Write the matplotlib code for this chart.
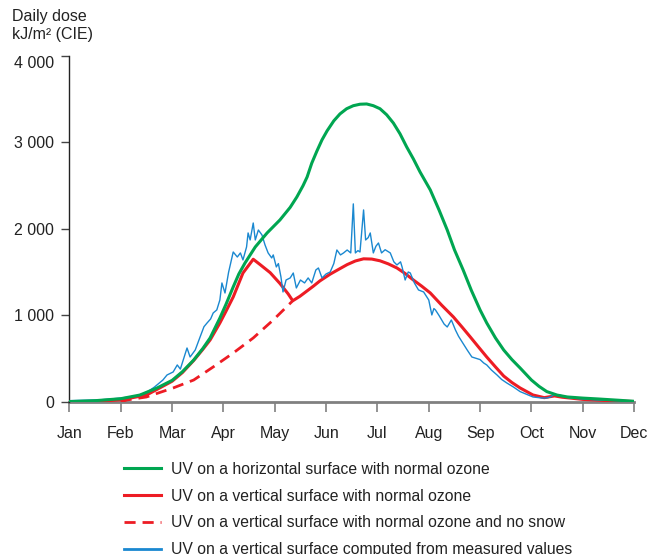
import matplotlib.pyplot as plt

plt.rcParams['font.family'] = ['Liberation Sans', 'DejaVu Sans']

# Month axis: 0 = Jan ... 11 = Dec
months = ['Jan', 'Feb', 'Mar', 'Apr', 'May', 'Jun', 'Jul', 'Aug', 'Sep', 'Oct', 'Nov', 'Dec']

# UV on a horizontal surface, normal ozone
horiz_t = [0, 0.5, 1.0, 1.37, 1.7, 2.0, 2.2, 2.42, 2.6, 2.74, 2.93, 3.05, 3.19, 3.3, 3.42,
           3.62, 3.85, 4.1, 4.3, 4.43, 4.55, 4.63, 4.72, 4.82, 4.92, 5.02, 5.15, 5.27, 5.4,
           5.53, 5.66, 5.79, 5.92, 6.05, 6.18, 6.31, 6.44, 6.57, 6.7, 6.83, 7.03, 7.2, 7.36,
           7.5, 7.67, 7.83, 8.0, 8.13, 8.3, 8.46, 8.62, 8.78, 9.0, 9.15, 9.3, 9.5, 9.7, 10.0,
           10.3, 10.7, 11.0]
horiz_v = [5, 15, 38, 80, 160, 250, 350, 485, 620, 740, 970, 1130, 1330, 1480, 1607,
           1792, 1954, 2104, 2250, 2370, 2500, 2601, 2760, 2900, 3030, 3135, 3250, 3330, 3390,
           3425, 3442, 3445, 3425, 3390, 3320, 3225, 3100, 2948, 2810, 2659, 2451, 2220, 1988,
           1760, 1526, 1290, 1064, 913, 740, 601, 490, 393, 254, 180, 120, 80, 58, 45,
           35, 20, 8]

# UV on a vertical surface, normal ozone
vert_t = [0, 0.5, 1.0, 1.5, 2.0, 2.2, 2.42, 2.6, 2.74, 2.93, 3.05, 3.19, 3.38, 3.58,
          3.71, 3.91, 4.1, 4.26, 4.35, 4.49, 4.62, 4.75, 4.88, 5.08, 5.25, 5.41, 5.57,
          5.73, 5.89, 6.05, 6.21, 6.38, 6.54, 6.7, 6.86, 7.03, 7.25, 7.48, 7.65, 7.81,
          7.97, 8.13, 8.3, 8.46, 8.62, 8.78, 9.03, 9.25, 9.45, 9.6, 10.0, 10.5, 11.0]
vert_v = [0, 5, 25, 80, 240, 340, 480, 610, 717, 913, 1050, 1214, 1491, 1650,
          1590, 1495, 1370, 1250, 1170, 1222, 1280, 1338, 1400, 1478, 1535, 1588, 1630,
          1655, 1652, 1632, 1597, 1549, 1485, 1410, 1340, 1260, 1120, 983, 865, 751,
          635, 520, 405, 300, 225, 162, 81, 50, 70, 55, 30, 15, 5]

# Vertical surface, normal ozone, no snow
nosnow_t = [1.0, 1.12, 1.5, 2.02, 2.42, 2.8, 3.19, 3.58, 3.97, 4.35]
nosnow_v = [0, 23, 58, 162, 254, 405, 566, 740, 948, 1170]

# Vertical surface computed from measured values
meas_t = [0, 0.3, 0.6, 1.0, 1.3, 1.5, 1.65, 1.82, 1.9, 2.02, 2.1, 2.16, 2.29, 2.35, 2.45,
          2.55, 2.62, 2.68, 2.75, 2.8, 2.87, 2.93, 2.97, 3.03, 3.1, 3.19, 3.27, 3.33, 3.38,
          3.45, 3.48, 3.52, 3.58, 3.62, 3.68, 3.75, 3.81, 3.87, 3.94, 3.97, 4.03, 4.07,
          4.12, 4.16, 4.22, 4.3, 4.36, 4.42, 4.5, 4.58, 4.65, 4.72, 4.8, 4.85, 4.92, 5.0,
          5.08, 5.15, 5.21, 5.28, 5.34, 5.41, 5.48, 5.53, 5.57, 5.62, 5.66, 5.73, 5.77,
          5.82, 5.86, 5.92, 5.97, 6.02, 6.08, 6.15, 6.25, 6.32, 6.38, 6.45, 6.48, 6.54,
          6.6, 6.64, 6.72, 6.8, 6.9, 7.0, 7.06, 7.1, 7.13, 7.2, 7.3, 7.36, 7.44, 7.52,
          7.58, 7.65, 7.75, 7.84, 8.0, 8.07, 8.13, 8.22, 8.33, 8.42, 8.52, 8.65, 8.78,
          8.9, 9.03, 9.2, 9.3, 9.38, 9.43, 9.55, 9.65, 9.75, 10.0, 10.3, 10.7, 11.0]
meas_v = [15, 20, 25, 45, 70, 110, 170, 254, 312, 347, 428, 380, 624, 520, 601,
          760, 870, 913, 960, 1029, 1064, 1179, 1376, 1260, 1500, 1734, 1676, 1723, 1642,
          1792, 1954, 1873, 2069, 1873, 1988, 1931, 1815, 1723, 1665, 1700, 1561, 1600,
          1445, 1272, 1410, 1434, 1491, 1318, 1410, 1376, 1434, 1376, 1526, 1549, 1434, 1480,
          1503, 1600, 1757, 1700, 1723, 1757, 1723, 2290, 1723, 1750, 1734, 2220, 1873,
          1900, 1954, 1723, 1800, 1838, 1723, 1760, 1723, 1620, 1584, 1620, 1561, 1410,
          1503, 1491, 1376, 1295, 1272, 1179, 1006, 1080, 1064, 1000, 900, 867, 948, 832,
          760, 694, 600, 520, 490, 451, 428, 370, 312, 260, 220, 173, 120,
          90, 58, 46, 46, 60, 81, 81, 60, 46, 35, 23, 15, 12]

green = '#00a651'
red = '#ed1c24'
blue = '#1a88d0'
dash = (0, (4, 2.5))

fig = plt.figure(figsize=(6.47, 5.54), dpi=100)
ax = fig.add_axes([0.1074, 0.2744, 0.8726, 0.6246])

ax.plot(nosnow_t, nosnow_v, color=red, lw=2.0, ls=dash, zorder=2)
ax.plot(vert_t, vert_v, color=red, lw=2.2, zorder=3)
ax.plot(meas_t, meas_v, color=blue, lw=1.0, zorder=4)
ax.plot(horiz_t, horiz_v, color=green, lw=2.2, zorder=5)

ax.set_xlim(0, 11)
ax.set_ylim(0, 4000)
ax.set_xticks(range(12))
ax.set_xticklabels(months)
ax.set_yticks([0, 1000, 2000, 3000, 4000])
ax.set_yticklabels(['0', '1 000', '2 000', '3 000', '4 000'])

for s in ['top', 'right']:
    ax.spines[s].set_visible(False)
ax.spines['left'].set_color('#222222')
ax.spines['left'].set_linewidth(1.0)
ax.spines['bottom'].set_color('#808080')
ax.spines['bottom'].set_linewidth(2.0)
ax.spines['bottom'].set_zorder(1)
ax.tick_params(axis='x', colors='#808080', labelcolor='#222222', length=7, width=1.2,
               labelsize=11.5, pad=10)
ax.tick_params(axis='y', colors='#444444', labelcolor='#222222', length=6, width=1.0,
               labelsize=11.5, pad=5)
# top label sits a little below its tick
ax.get_yticklabels()[-1].set_va('top')

fig.text(0.019, 0.983, 'Daily dose\nkJ/m² (CIE)', ha='left', va='top', fontsize=11.5,
         color='#222222', linespacing=1.25)

handles = [
    plt.Line2D([], [], color=green, lw=2.2),
    plt.Line2D([], [], color=red, lw=2.2),
    plt.Line2D([], [], color=red, lw=2.0, ls=dash),
    plt.Line2D([], [], color=blue, lw=2.0),
]
labels = [
    'UV on a horizontal surface with normal ozone',
    'UV on a vertical surface with normal ozone',
    'UV on a vertical surface with normal ozone and no snow',
    'UV on a vertical surface computed from measured values',
]
fig.legend(handles, labels, loc='upper left', bbox_to_anchor=(0.1917, 0.1665),
           frameon=False, fontsize=11.3, handlelength=2.35, handletextpad=0.64,
           labelspacing=0.75, borderaxespad=0, borderpad=0, labelcolor='#222222')

fig.savefig('out.png', dpi=100)
